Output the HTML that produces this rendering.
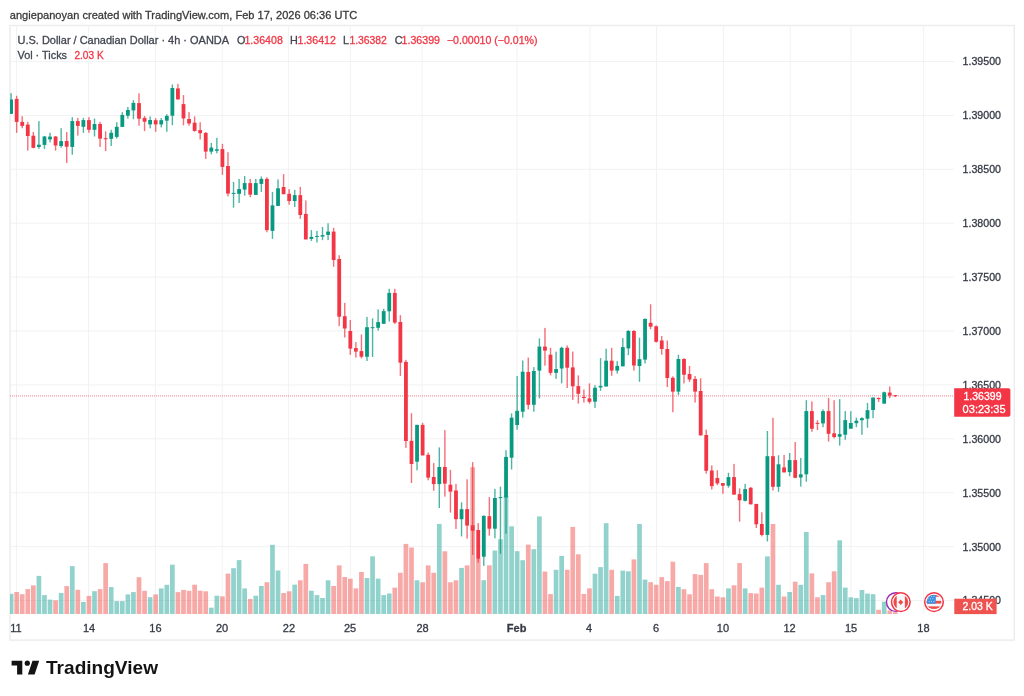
<!DOCTYPE html>
<html><head><meta charset="utf-8"><title>USDCAD chart</title>
<style>
html,body{margin:0;padding:0;background:#ffffff;width:1024px;height:696px;overflow:hidden}
svg{display:block;will-change:transform}
text{font-family:"Liberation Sans",Arial,sans-serif}
</style></head><body>
<svg width="1024" height="696" viewBox="0 0 1024 696">
<rect x="0" y="0" width="1024" height="696" fill="#ffffff"/>
<text x="9.8" y="18.5" font-size="11.6" fill="#3a3a3c" textLength="347.4" lengthAdjust="spacingAndGlyphs" stroke="#3a3a3c" stroke-width="0.3">angiepanoyan created with TradingView.com, Feb 17, 2026 06:36 UTC</text>
<rect x="10" y="25.5" width="1004.2" height="614.6" fill="#ffffff" stroke="#ececec" stroke-width="1.4"/>
<rect x="16.1" y="25" width="1" height="589" fill="#f1f2f3"/>
<rect x="88" y="25" width="1" height="589" fill="#f1f2f3"/>
<rect x="154.85" y="25" width="1" height="589" fill="#f1f2f3"/>
<rect x="221.7" y="25" width="1" height="589" fill="#f1f2f3"/>
<rect x="287.9" y="25" width="1" height="589" fill="#f1f2f3"/>
<rect x="349.85" y="25" width="1" height="589" fill="#f1f2f3"/>
<rect x="421.6" y="25" width="1" height="589" fill="#f1f2f3"/>
<rect x="516.6" y="25" width="1" height="589" fill="#f1f2f3"/>
<rect x="589.4" y="25" width="1" height="589" fill="#f1f2f3"/>
<rect x="656" y="25" width="1" height="589" fill="#f1f2f3"/>
<rect x="722.85" y="25" width="1" height="589" fill="#f1f2f3"/>
<rect x="789.7" y="25" width="1" height="589" fill="#f1f2f3"/>
<rect x="850.4" y="25" width="1" height="589" fill="#f1f2f3"/>
<rect x="923.1" y="25" width="1" height="589" fill="#f1f2f3"/>
<rect x="10" y="61" width="944" height="1" fill="#f1f2f3"/>
<rect x="10" y="114.9" width="944" height="1" fill="#f1f2f3"/>
<rect x="10" y="168.8" width="944" height="1" fill="#f1f2f3"/>
<rect x="10" y="222.7" width="944" height="1" fill="#f1f2f3"/>
<rect x="10" y="276.6" width="944" height="1" fill="#f1f2f3"/>
<rect x="10" y="330.5" width="944" height="1" fill="#f1f2f3"/>
<rect x="10" y="384.4" width="944" height="1" fill="#f1f2f3"/>
<rect x="10" y="438.3" width="944" height="1" fill="#f1f2f3"/>
<rect x="10" y="492.2" width="944" height="1" fill="#f1f2f3"/>
<rect x="10" y="546.1" width="944" height="1" fill="#f1f2f3"/>
<rect x="10" y="600" width="944" height="1" fill="#f1f2f3"/>
<defs><clipPath id="pane"><rect x="10" y="25" width="944" height="589"/></clipPath></defs>
<g clip-path="url(#pane)">
<rect x="8.75" y="593.8" width="4.7" height="20.2" fill="rgba(38,166,154,0.5)"/>
<rect x="14.31" y="592" width="4.7" height="22" fill="rgba(239,83,80,0.5)"/>
<rect x="19.87" y="594.2" width="4.7" height="19.8" fill="rgba(239,83,80,0.5)"/>
<rect x="25.43" y="589.1" width="4.7" height="24.9" fill="rgba(239,83,80,0.5)"/>
<rect x="30.99" y="585.4" width="4.7" height="28.6" fill="rgba(239,83,80,0.5)"/>
<rect x="36.55" y="575.9" width="4.7" height="38.1" fill="rgba(38,166,154,0.5)"/>
<rect x="42.12" y="595.1" width="4.7" height="18.9" fill="rgba(38,166,154,0.5)"/>
<rect x="47.68" y="599.6" width="4.7" height="14.4" fill="rgba(38,166,154,0.5)"/>
<rect x="53.24" y="600.3" width="4.7" height="13.7" fill="rgba(239,83,80,0.5)"/>
<rect x="58.8" y="593" width="4.7" height="21" fill="rgba(38,166,154,0.5)"/>
<rect x="64.36" y="586.1" width="4.7" height="27.9" fill="rgba(239,83,80,0.5)"/>
<rect x="69.92" y="566.1" width="4.7" height="47.9" fill="rgba(38,166,154,0.5)"/>
<rect x="75.48" y="589.8" width="4.7" height="24.2" fill="rgba(239,83,80,0.5)"/>
<rect x="81.04" y="602" width="4.7" height="12" fill="rgba(38,166,154,0.5)"/>
<rect x="86.6" y="595.9" width="4.7" height="18.1" fill="rgba(239,83,80,0.5)"/>
<rect x="92.16" y="591.2" width="4.7" height="22.8" fill="rgba(38,166,154,0.5)"/>
<rect x="97.73" y="589.1" width="4.7" height="24.9" fill="rgba(239,83,80,0.5)"/>
<rect x="103.29" y="563.1" width="4.7" height="50.9" fill="rgba(239,83,80,0.5)"/>
<rect x="108.85" y="587.1" width="4.7" height="26.9" fill="rgba(38,166,154,0.5)"/>
<rect x="114.41" y="601.1" width="4.7" height="12.9" fill="rgba(38,166,154,0.5)"/>
<rect x="119.97" y="601.1" width="4.7" height="12.9" fill="rgba(38,166,154,0.5)"/>
<rect x="125.53" y="594.4" width="4.7" height="19.6" fill="rgba(38,166,154,0.5)"/>
<rect x="131.09" y="592.1" width="4.7" height="21.9" fill="rgba(38,166,154,0.5)"/>
<rect x="136.65" y="577.2" width="4.7" height="36.8" fill="rgba(239,83,80,0.5)"/>
<rect x="142.21" y="590.8" width="4.7" height="23.2" fill="rgba(239,83,80,0.5)"/>
<rect x="147.78" y="597.2" width="4.7" height="16.8" fill="rgba(38,166,154,0.5)"/>
<rect x="153.34" y="594.4" width="4.7" height="19.6" fill="rgba(239,83,80,0.5)"/>
<rect x="158.9" y="588.4" width="4.7" height="25.6" fill="rgba(38,166,154,0.5)"/>
<rect x="164.46" y="584.8" width="4.7" height="29.2" fill="rgba(38,166,154,0.5)"/>
<rect x="170.02" y="564.7" width="4.7" height="49.3" fill="rgba(38,166,154,0.5)"/>
<rect x="175.58" y="592.1" width="4.7" height="21.9" fill="rgba(239,83,80,0.5)"/>
<rect x="181.14" y="589.9" width="4.7" height="24.1" fill="rgba(239,83,80,0.5)"/>
<rect x="186.7" y="590.8" width="4.7" height="23.2" fill="rgba(239,83,80,0.5)"/>
<rect x="192.26" y="584.7" width="4.7" height="29.3" fill="rgba(239,83,80,0.5)"/>
<rect x="197.82" y="590.7" width="4.7" height="23.3" fill="rgba(239,83,80,0.5)"/>
<rect x="203.38" y="591.3" width="4.7" height="22.7" fill="rgba(239,83,80,0.5)"/>
<rect x="208.95" y="607.7" width="4.7" height="6.3" fill="rgba(38,166,154,0.5)"/>
<rect x="214.51" y="595.7" width="4.7" height="18.3" fill="rgba(38,166,154,0.5)"/>
<rect x="220.07" y="596.4" width="4.7" height="17.6" fill="rgba(239,83,80,0.5)"/>
<rect x="225.63" y="573.6" width="4.7" height="40.4" fill="rgba(239,83,80,0.5)"/>
<rect x="231.19" y="568.2" width="4.7" height="45.8" fill="rgba(38,166,154,0.5)"/>
<rect x="236.75" y="560.1" width="4.7" height="53.9" fill="rgba(38,166,154,0.5)"/>
<rect x="242.31" y="588.4" width="4.7" height="25.6" fill="rgba(38,166,154,0.5)"/>
<rect x="247.87" y="598.9" width="4.7" height="15.1" fill="rgba(239,83,80,0.5)"/>
<rect x="253.43" y="595.7" width="4.7" height="18.3" fill="rgba(38,166,154,0.5)"/>
<rect x="259" y="586" width="4.7" height="28" fill="rgba(38,166,154,0.5)"/>
<rect x="264.56" y="582.2" width="4.7" height="31.8" fill="rgba(239,83,80,0.5)"/>
<rect x="270.12" y="544.8" width="4.7" height="69.2" fill="rgba(38,166,154,0.5)"/>
<rect x="275.68" y="570.5" width="4.7" height="43.5" fill="rgba(38,166,154,0.5)"/>
<rect x="281.24" y="593" width="4.7" height="21" fill="rgba(239,83,80,0.5)"/>
<rect x="286.8" y="591.3" width="4.7" height="22.7" fill="rgba(239,83,80,0.5)"/>
<rect x="292.36" y="584.6" width="4.7" height="29.4" fill="rgba(38,166,154,0.5)"/>
<rect x="297.92" y="580.3" width="4.7" height="33.7" fill="rgba(239,83,80,0.5)"/>
<rect x="303.48" y="563.9" width="4.7" height="50.1" fill="rgba(239,83,80,0.5)"/>
<rect x="309.04" y="590.7" width="4.7" height="23.3" fill="rgba(38,166,154,0.5)"/>
<rect x="314.61" y="595.1" width="4.7" height="18.9" fill="rgba(38,166,154,0.5)"/>
<rect x="320.17" y="598" width="4.7" height="16" fill="rgba(38,166,154,0.5)"/>
<rect x="325.73" y="580.3" width="4.7" height="33.7" fill="rgba(38,166,154,0.5)"/>
<rect x="331.29" y="586" width="4.7" height="28" fill="rgba(239,83,80,0.5)"/>
<rect x="336.85" y="565.4" width="4.7" height="48.6" fill="rgba(239,83,80,0.5)"/>
<rect x="342.41" y="577" width="4.7" height="37" fill="rgba(239,83,80,0.5)"/>
<rect x="347.97" y="578.7" width="4.7" height="35.3" fill="rgba(239,83,80,0.5)"/>
<rect x="353.53" y="588.4" width="4.7" height="25.6" fill="rgba(239,83,80,0.5)"/>
<rect x="359.09" y="572" width="4.7" height="42" fill="rgba(239,83,80,0.5)"/>
<rect x="364.65" y="578" width="4.7" height="36" fill="rgba(38,166,154,0.5)"/>
<rect x="370.21" y="556.3" width="4.7" height="57.7" fill="rgba(38,166,154,0.5)"/>
<rect x="375.78" y="578.7" width="4.7" height="35.3" fill="rgba(38,166,154,0.5)"/>
<rect x="381.34" y="595.1" width="4.7" height="18.9" fill="rgba(38,166,154,0.5)"/>
<rect x="386.9" y="593.5" width="4.7" height="20.5" fill="rgba(38,166,154,0.5)"/>
<rect x="392.46" y="587.6" width="4.7" height="26.4" fill="rgba(239,83,80,0.5)"/>
<rect x="398.02" y="572.8" width="4.7" height="41.2" fill="rgba(239,83,80,0.5)"/>
<rect x="403.58" y="543.9" width="4.7" height="70.1" fill="rgba(239,83,80,0.5)"/>
<rect x="409.14" y="547.5" width="4.7" height="66.5" fill="rgba(239,83,80,0.5)"/>
<rect x="414.7" y="580.3" width="4.7" height="33.7" fill="rgba(38,166,154,0.5)"/>
<rect x="420.26" y="582.3" width="4.7" height="31.7" fill="rgba(239,83,80,0.5)"/>
<rect x="425.82" y="565.4" width="4.7" height="48.6" fill="rgba(239,83,80,0.5)"/>
<rect x="431.39" y="572.8" width="4.7" height="41.2" fill="rgba(239,83,80,0.5)"/>
<rect x="436.95" y="523.9" width="4.7" height="90.1" fill="rgba(38,166,154,0.5)"/>
<rect x="442.51" y="551.3" width="4.7" height="62.7" fill="rgba(239,83,80,0.5)"/>
<rect x="448.07" y="582.3" width="4.7" height="31.7" fill="rgba(239,83,80,0.5)"/>
<rect x="453.63" y="580.3" width="4.7" height="33.7" fill="rgba(239,83,80,0.5)"/>
<rect x="459.19" y="567.9" width="4.7" height="46.1" fill="rgba(38,166,154,0.5)"/>
<rect x="464.75" y="565.4" width="4.7" height="48.6" fill="rgba(239,83,80,0.5)"/>
<rect x="470.31" y="467.2" width="4.7" height="146.8" fill="rgba(239,83,80,0.5)"/>
<rect x="475.87" y="558.4" width="4.7" height="55.6" fill="rgba(239,83,80,0.5)"/>
<rect x="481.44" y="580.2" width="4.7" height="33.8" fill="rgba(38,166,154,0.5)"/>
<rect x="487" y="565.3" width="4.7" height="48.7" fill="rgba(239,83,80,0.5)"/>
<rect x="492.56" y="550.5" width="4.7" height="63.5" fill="rgba(38,166,154,0.5)"/>
<rect x="498.12" y="539.3" width="4.7" height="74.7" fill="rgba(38,166,154,0.5)"/>
<rect x="503.68" y="495.4" width="4.7" height="118.6" fill="rgba(38,166,154,0.5)"/>
<rect x="509.24" y="526.3" width="4.7" height="87.7" fill="rgba(38,166,154,0.5)"/>
<rect x="514.8" y="551.2" width="4.7" height="62.8" fill="rgba(38,166,154,0.5)"/>
<rect x="520.36" y="560.2" width="4.7" height="53.8" fill="rgba(38,166,154,0.5)"/>
<rect x="525.92" y="544.6" width="4.7" height="69.4" fill="rgba(239,83,80,0.5)"/>
<rect x="531.48" y="549.2" width="4.7" height="64.8" fill="rgba(38,166,154,0.5)"/>
<rect x="537.04" y="516.4" width="4.7" height="97.6" fill="rgba(38,166,154,0.5)"/>
<rect x="542.61" y="571.5" width="4.7" height="42.5" fill="rgba(239,83,80,0.5)"/>
<rect x="548.17" y="594.1" width="4.7" height="19.9" fill="rgba(239,83,80,0.5)"/>
<rect x="553.73" y="569.8" width="4.7" height="44.2" fill="rgba(38,166,154,0.5)"/>
<rect x="559.29" y="555.9" width="4.7" height="58.1" fill="rgba(38,166,154,0.5)"/>
<rect x="564.85" y="569.8" width="4.7" height="44.2" fill="rgba(239,83,80,0.5)"/>
<rect x="570.41" y="526.9" width="4.7" height="87.1" fill="rgba(239,83,80,0.5)"/>
<rect x="575.97" y="554.3" width="4.7" height="59.7" fill="rgba(239,83,80,0.5)"/>
<rect x="581.53" y="593.9" width="4.7" height="20.1" fill="rgba(239,83,80,0.5)"/>
<rect x="587.09" y="588.4" width="4.7" height="25.6" fill="rgba(239,83,80,0.5)"/>
<rect x="592.65" y="573.7" width="4.7" height="40.3" fill="rgba(38,166,154,0.5)"/>
<rect x="598.22" y="567.1" width="4.7" height="46.9" fill="rgba(38,166,154,0.5)"/>
<rect x="603.78" y="523.2" width="4.7" height="90.8" fill="rgba(38,166,154,0.5)"/>
<rect x="609.34" y="569.8" width="4.7" height="44.2" fill="rgba(239,83,80,0.5)"/>
<rect x="614.9" y="595.9" width="4.7" height="18.1" fill="rgba(38,166,154,0.5)"/>
<rect x="620.46" y="570.6" width="4.7" height="43.4" fill="rgba(38,166,154,0.5)"/>
<rect x="626.02" y="571.3" width="4.7" height="42.7" fill="rgba(38,166,154,0.5)"/>
<rect x="631.58" y="559.4" width="4.7" height="54.6" fill="rgba(239,83,80,0.5)"/>
<rect x="637.14" y="524" width="4.7" height="90" fill="rgba(38,166,154,0.5)"/>
<rect x="642.7" y="579.6" width="4.7" height="34.4" fill="rgba(38,166,154,0.5)"/>
<rect x="648.26" y="582.2" width="4.7" height="31.8" fill="rgba(239,83,80,0.5)"/>
<rect x="653.83" y="584.8" width="4.7" height="29.2" fill="rgba(239,83,80,0.5)"/>
<rect x="659.39" y="577.1" width="4.7" height="36.9" fill="rgba(239,83,80,0.5)"/>
<rect x="664.95" y="581.1" width="4.7" height="32.9" fill="rgba(239,83,80,0.5)"/>
<rect x="670.51" y="561.7" width="4.7" height="52.3" fill="rgba(239,83,80,0.5)"/>
<rect x="676.07" y="586.9" width="4.7" height="27.1" fill="rgba(38,166,154,0.5)"/>
<rect x="681.63" y="589.2" width="4.7" height="24.8" fill="rgba(239,83,80,0.5)"/>
<rect x="687.19" y="594.3" width="4.7" height="19.7" fill="rgba(239,83,80,0.5)"/>
<rect x="692.75" y="574.1" width="4.7" height="39.9" fill="rgba(239,83,80,0.5)"/>
<rect x="698.31" y="574.9" width="4.7" height="39.1" fill="rgba(239,83,80,0.5)"/>
<rect x="703.88" y="563.1" width="4.7" height="50.9" fill="rgba(239,83,80,0.5)"/>
<rect x="709.44" y="589.2" width="4.7" height="24.8" fill="rgba(239,83,80,0.5)"/>
<rect x="715" y="596.5" width="4.7" height="17.5" fill="rgba(239,83,80,0.5)"/>
<rect x="720.56" y="597.3" width="4.7" height="16.7" fill="rgba(239,83,80,0.5)"/>
<rect x="726.12" y="588.4" width="4.7" height="25.6" fill="rgba(38,166,154,0.5)"/>
<rect x="731.68" y="585.3" width="4.7" height="28.7" fill="rgba(239,83,80,0.5)"/>
<rect x="737.24" y="563.1" width="4.7" height="50.9" fill="rgba(239,83,80,0.5)"/>
<rect x="742.8" y="588.4" width="4.7" height="25.6" fill="rgba(38,166,154,0.5)"/>
<rect x="748.36" y="593.1" width="4.7" height="20.9" fill="rgba(239,83,80,0.5)"/>
<rect x="753.92" y="593.5" width="4.7" height="20.5" fill="rgba(239,83,80,0.5)"/>
<rect x="759.49" y="587.6" width="4.7" height="26.4" fill="rgba(239,83,80,0.5)"/>
<rect x="765.05" y="556.4" width="4.7" height="57.6" fill="rgba(38,166,154,0.5)"/>
<rect x="770.61" y="524" width="4.7" height="90" fill="rgba(239,83,80,0.5)"/>
<rect x="776.17" y="584.8" width="4.7" height="29.2" fill="rgba(38,166,154,0.5)"/>
<rect x="781.73" y="596.5" width="4.7" height="17.5" fill="rgba(239,83,80,0.5)"/>
<rect x="787.29" y="592" width="4.7" height="22" fill="rgba(38,166,154,0.5)"/>
<rect x="792.85" y="581.7" width="4.7" height="32.3" fill="rgba(239,83,80,0.5)"/>
<rect x="798.41" y="584.8" width="4.7" height="29.2" fill="rgba(38,166,154,0.5)"/>
<rect x="803.97" y="532" width="4.7" height="82" fill="rgba(38,166,154,0.5)"/>
<rect x="809.53" y="573.4" width="4.7" height="40.6" fill="rgba(239,83,80,0.5)"/>
<rect x="815.1" y="597.3" width="4.7" height="16.7" fill="rgba(239,83,80,0.5)"/>
<rect x="820.66" y="595.1" width="4.7" height="18.9" fill="rgba(38,166,154,0.5)"/>
<rect x="826.22" y="582.2" width="4.7" height="31.8" fill="rgba(239,83,80,0.5)"/>
<rect x="831.78" y="571.3" width="4.7" height="42.7" fill="rgba(239,83,80,0.5)"/>
<rect x="837.34" y="540.3" width="4.7" height="73.7" fill="rgba(38,166,154,0.5)"/>
<rect x="842.9" y="587.6" width="4.7" height="26.4" fill="rgba(38,166,154,0.5)"/>
<rect x="848.46" y="597.3" width="4.7" height="16.7" fill="rgba(38,166,154,0.5)"/>
<rect x="854.02" y="598.1" width="4.7" height="15.9" fill="rgba(38,166,154,0.5)"/>
<rect x="859.58" y="590" width="4.7" height="24" fill="rgba(38,166,154,0.5)"/>
<rect x="865.14" y="593.6" width="4.7" height="20.4" fill="rgba(38,166,154,0.5)"/>
<rect x="870.71" y="594.2" width="4.7" height="19.8" fill="rgba(38,166,154,0.5)"/>
<rect x="876.27" y="609.8" width="4.7" height="4.2" fill="rgba(239,83,80,0.5)"/>
<rect x="881.83" y="601.7" width="4.7" height="12.3" fill="rgba(38,166,154,0.5)"/>
<rect x="887.39" y="610.5" width="4.7" height="3.5" fill="rgba(239,83,80,0.5)"/>
<rect x="892.95" y="612.2" width="4.7" height="1.8" fill="rgba(239,83,80,0.5)"/>
<line x1="10" y1="395.8" x2="954" y2="395.8" stroke="#f23645" stroke-width="1.2" stroke-dasharray="1 1" opacity="0.5"/>
<rect x="10.4" y="93.2" width="1.4" height="20.8" fill="#089981" fill-opacity="0.72"/><rect x="9.2" y="99.5" width="3.8" height="14.4" fill="#089981"/>
<rect x="15.96" y="95.8" width="1.4" height="37" fill="#f23645" fill-opacity="0.72"/><rect x="14.76" y="98.9" width="3.8" height="23" fill="#f23645"/>
<rect x="21.52" y="116.2" width="1.4" height="12" fill="#f23645" fill-opacity="0.72"/><rect x="20.32" y="121.9" width="3.8" height="4" fill="#f23645"/>
<rect x="27.08" y="121.9" width="1.4" height="28.7" fill="#f23645" fill-opacity="0.72"/><rect x="25.88" y="124.6" width="3.8" height="11.4" fill="#f23645"/>
<rect x="32.64" y="132" width="1.4" height="16.3" fill="#f23645" fill-opacity="0.72"/><rect x="31.44" y="135.7" width="3.8" height="12.1" fill="#f23645"/>
<rect x="38.2" y="121.1" width="1.4" height="27.8" fill="#089981" fill-opacity="0.72"/><rect x="37.01" y="144.7" width="3.8" height="2.2" fill="#089981"/>
<rect x="43.77" y="136" width="1.4" height="12.9" fill="#089981" fill-opacity="0.72"/><rect x="42.57" y="136.5" width="3.8" height="8.4" fill="#089981"/>
<rect x="49.33" y="132.8" width="1.4" height="9.5" fill="#089981" fill-opacity="0.72"/><rect x="48.13" y="136.6" width="3.8" height="2.8" fill="#089981"/>
<rect x="54.89" y="136" width="1.4" height="14.6" fill="#f23645" fill-opacity="0.72"/><rect x="53.69" y="136.5" width="3.8" height="9" fill="#f23645"/>
<rect x="60.45" y="128.2" width="1.4" height="19.6" fill="#089981" fill-opacity="0.72"/><rect x="59.25" y="141.1" width="3.8" height="4.9" fill="#089981"/>
<rect x="66.01" y="132.1" width="1.4" height="30.9" fill="#f23645" fill-opacity="0.72"/><rect x="64.81" y="141" width="3.8" height="5.7" fill="#f23645"/>
<rect x="71.57" y="117.2" width="1.4" height="37.5" fill="#089981" fill-opacity="0.72"/><rect x="70.37" y="121.1" width="3.8" height="25.8" fill="#089981"/>
<rect x="77.13" y="117.9" width="1.4" height="17.7" fill="#f23645" fill-opacity="0.72"/><rect x="75.93" y="121.1" width="3.8" height="4.8" fill="#f23645"/>
<rect x="82.69" y="117.9" width="1.4" height="14.9" fill="#089981" fill-opacity="0.72"/><rect x="81.49" y="120.1" width="3.8" height="6.7" fill="#089981"/>
<rect x="88.25" y="117.2" width="1.4" height="15.6" fill="#f23645" fill-opacity="0.72"/><rect x="87.05" y="120.1" width="3.8" height="9.7" fill="#f23645"/>
<rect x="93.81" y="118.5" width="1.4" height="18" fill="#089981" fill-opacity="0.72"/><rect x="92.61" y="124" width="3.8" height="5.8" fill="#089981"/>
<rect x="99.38" y="121.8" width="1.4" height="25.2" fill="#f23645" fill-opacity="0.72"/><rect x="98.18" y="124" width="3.8" height="14.6" fill="#f23645"/>
<rect x="104.94" y="131.3" width="1.4" height="19.8" fill="#f23645" fill-opacity="0.72"/><rect x="103.74" y="138.2" width="3.8" height="1" fill="#f23645"/>
<rect x="110.5" y="129.8" width="1.4" height="16.2" fill="#089981" fill-opacity="0.72"/><rect x="109.3" y="132.8" width="3.8" height="6" fill="#089981"/>
<rect x="116.06" y="122.2" width="1.4" height="16.3" fill="#089981" fill-opacity="0.72"/><rect x="114.86" y="126.8" width="3.8" height="10.1" fill="#089981"/>
<rect x="121.62" y="112.2" width="1.4" height="14.8" fill="#089981" fill-opacity="0.72"/><rect x="120.42" y="115" width="3.8" height="11.9" fill="#089981"/>
<rect x="127.18" y="106.9" width="1.4" height="11.8" fill="#089981" fill-opacity="0.72"/><rect x="125.98" y="110" width="3.8" height="5.7" fill="#089981"/>
<rect x="132.74" y="100.1" width="1.4" height="19.1" fill="#089981" fill-opacity="0.72"/><rect x="131.54" y="102.9" width="3.8" height="7.5" fill="#089981"/>
<rect x="138.3" y="93.3" width="1.4" height="32.4" fill="#f23645" fill-opacity="0.72"/><rect x="137.1" y="103.1" width="3.8" height="15.6" fill="#f23645"/>
<rect x="143.86" y="116" width="1.4" height="15.1" fill="#f23645" fill-opacity="0.72"/><rect x="142.66" y="117.9" width="3.8" height="3.8" fill="#f23645"/>
<rect x="149.43" y="116.5" width="1.4" height="11.8" fill="#089981" fill-opacity="0.72"/><rect x="148.22" y="120" width="3.8" height="4.4" fill="#089981"/>
<rect x="154.99" y="118.2" width="1.4" height="13.6" fill="#f23645" fill-opacity="0.72"/><rect x="153.79" y="120.2" width="3.8" height="4.2" fill="#f23645"/>
<rect x="160.55" y="118" width="1.4" height="9.4" fill="#089981" fill-opacity="0.72"/><rect x="159.35" y="120.2" width="3.8" height="4.2" fill="#089981"/>
<rect x="166.11" y="114.2" width="1.4" height="17.6" fill="#089981" fill-opacity="0.72"/><rect x="164.91" y="115.9" width="3.8" height="4.8" fill="#089981"/>
<rect x="171.67" y="84.5" width="1.4" height="40.7" fill="#089981" fill-opacity="0.72"/><rect x="170.47" y="88" width="3.8" height="27.7" fill="#089981"/>
<rect x="177.23" y="83.9" width="1.4" height="15.8" fill="#f23645" fill-opacity="0.72"/><rect x="176.03" y="88.4" width="3.8" height="11" fill="#f23645"/>
<rect x="182.79" y="95.1" width="1.4" height="30.2" fill="#f23645" fill-opacity="0.72"/><rect x="181.59" y="104.1" width="3.8" height="14.3" fill="#f23645"/>
<rect x="188.35" y="112.1" width="1.4" height="13.6" fill="#f23645" fill-opacity="0.72"/><rect x="187.15" y="119" width="3.8" height="4.5" fill="#f23645"/>
<rect x="193.91" y="116.4" width="1.4" height="15.3" fill="#f23645" fill-opacity="0.72"/><rect x="192.71" y="122.7" width="3.8" height="8.2" fill="#f23645"/>
<rect x="199.47" y="122.2" width="1.4" height="17.3" fill="#f23645" fill-opacity="0.72"/><rect x="198.27" y="130.1" width="3.8" height="3.1" fill="#f23645"/>
<rect x="205.03" y="132.1" width="1.4" height="26.8" fill="#f23645" fill-opacity="0.72"/><rect x="203.83" y="132.9" width="3.8" height="18.7" fill="#f23645"/>
<rect x="210.6" y="143" width="1.4" height="11.3" fill="#089981" fill-opacity="0.72"/><rect x="209.4" y="147.6" width="3.8" height="4" fill="#089981"/>
<rect x="216.16" y="137.8" width="1.4" height="15.5" fill="#089981" fill-opacity="0.72"/><rect x="214.96" y="149.3" width="3.8" height="1.5" fill="#089981"/>
<rect x="221.72" y="143.9" width="1.4" height="31" fill="#f23645" fill-opacity="0.72"/><rect x="220.52" y="149.1" width="3.8" height="17.8" fill="#f23645"/>
<rect x="227.28" y="152.2" width="1.4" height="44.2" fill="#f23645" fill-opacity="0.72"/><rect x="226.08" y="166" width="3.8" height="27.6" fill="#f23645"/>
<rect x="232.84" y="181.9" width="1.4" height="25.8" fill="#089981" fill-opacity="0.72"/><rect x="231.64" y="192.9" width="3.8" height="1" fill="#089981"/>
<rect x="238.4" y="179" width="1.4" height="24" fill="#089981" fill-opacity="0.72"/><rect x="237.2" y="189.1" width="3.8" height="4.7" fill="#089981"/>
<rect x="243.96" y="176" width="1.4" height="19.7" fill="#089981" fill-opacity="0.72"/><rect x="242.76" y="183.1" width="3.8" height="6.5" fill="#089981"/>
<rect x="249.52" y="179" width="1.4" height="18.2" fill="#f23645" fill-opacity="0.72"/><rect x="248.32" y="183.1" width="3.8" height="11.5" fill="#f23645"/>
<rect x="255.08" y="178.9" width="1.4" height="16" fill="#089981" fill-opacity="0.72"/><rect x="253.88" y="183.1" width="3.8" height="11.8" fill="#089981"/>
<rect x="260.65" y="176.5" width="1.4" height="15.4" fill="#089981" fill-opacity="0.72"/><rect x="259.45" y="178.9" width="3.8" height="5" fill="#089981"/>
<rect x="266.21" y="177.2" width="1.4" height="55" fill="#f23645" fill-opacity="0.72"/><rect x="265.01" y="178.9" width="3.8" height="51.2" fill="#f23645"/>
<rect x="271.77" y="191.9" width="1.4" height="47" fill="#089981" fill-opacity="0.72"/><rect x="270.57" y="205.4" width="3.8" height="25.5" fill="#089981"/>
<rect x="277.33" y="179.4" width="1.4" height="26.5" fill="#089981" fill-opacity="0.72"/><rect x="276.13" y="188.3" width="3.8" height="17.6" fill="#089981"/>
<rect x="282.89" y="174.1" width="1.4" height="20.1" fill="#f23645" fill-opacity="0.72"/><rect x="281.69" y="187" width="3.8" height="7.2" fill="#f23645"/>
<rect x="288.45" y="189.1" width="1.4" height="15.6" fill="#f23645" fill-opacity="0.72"/><rect x="287.25" y="193.8" width="3.8" height="7.2" fill="#f23645"/>
<rect x="294.01" y="189.9" width="1.4" height="17.1" fill="#089981" fill-opacity="0.72"/><rect x="292.81" y="195.1" width="3.8" height="5.9" fill="#089981"/>
<rect x="299.57" y="186.9" width="1.4" height="31.9" fill="#f23645" fill-opacity="0.72"/><rect x="298.37" y="195.1" width="3.8" height="19.9" fill="#f23645"/>
<rect x="305.13" y="200.4" width="1.4" height="39" fill="#f23645" fill-opacity="0.72"/><rect x="303.93" y="213.9" width="3.8" height="25.5" fill="#f23645"/>
<rect x="310.69" y="230.1" width="1.4" height="10.8" fill="#089981" fill-opacity="0.72"/><rect x="309.49" y="236.9" width="3.8" height="2" fill="#089981"/>
<rect x="316.26" y="230.9" width="1.4" height="11.6" fill="#089981" fill-opacity="0.72"/><rect x="315.06" y="235.9" width="3.8" height="1" fill="#089981"/>
<rect x="321.82" y="227" width="1.4" height="13.1" fill="#089981" fill-opacity="0.72"/><rect x="320.62" y="235.1" width="3.8" height="1.5" fill="#089981"/>
<rect x="327.38" y="223.3" width="1.4" height="16.8" fill="#089981" fill-opacity="0.72"/><rect x="326.18" y="231.6" width="3.8" height="3.3" fill="#089981"/>
<rect x="332.94" y="227.8" width="1.4" height="39" fill="#f23645" fill-opacity="0.72"/><rect x="331.74" y="231.6" width="3.8" height="28.4" fill="#f23645"/>
<rect x="338.5" y="255.2" width="1.4" height="71" fill="#f23645" fill-opacity="0.72"/><rect x="337.3" y="259" width="3.8" height="57.7" fill="#f23645"/>
<rect x="344.06" y="302.9" width="1.4" height="34.6" fill="#f23645" fill-opacity="0.72"/><rect x="342.86" y="316.2" width="3.8" height="12.3" fill="#f23645"/>
<rect x="349.62" y="320" width="1.4" height="34.9" fill="#f23645" fill-opacity="0.72"/><rect x="348.42" y="331" width="3.8" height="17.6" fill="#f23645"/>
<rect x="355.18" y="342.1" width="1.4" height="15.5" fill="#f23645" fill-opacity="0.72"/><rect x="353.98" y="348.1" width="3.8" height="3.5" fill="#f23645"/>
<rect x="360.74" y="334.5" width="1.4" height="23.9" fill="#f23645" fill-opacity="0.72"/><rect x="359.54" y="351.1" width="3.8" height="5.6" fill="#f23645"/>
<rect x="366.3" y="316.9" width="1.4" height="44.1" fill="#089981" fill-opacity="0.72"/><rect x="365.1" y="327.2" width="3.8" height="29.6" fill="#089981"/>
<rect x="371.87" y="318.3" width="1.4" height="38.7" fill="#089981" fill-opacity="0.72"/><rect x="370.67" y="327.2" width="3.8" height="1" fill="#089981"/>
<rect x="377.43" y="309.4" width="1.4" height="21.3" fill="#089981" fill-opacity="0.72"/><rect x="376.23" y="322.1" width="3.8" height="5.7" fill="#089981"/>
<rect x="382.99" y="308.8" width="1.4" height="15.1" fill="#089981" fill-opacity="0.72"/><rect x="381.79" y="311.1" width="3.8" height="12.7" fill="#089981"/>
<rect x="388.55" y="288.8" width="1.4" height="32.8" fill="#089981" fill-opacity="0.72"/><rect x="387.35" y="292.9" width="3.8" height="18.4" fill="#089981"/>
<rect x="394.11" y="288.8" width="1.4" height="35.1" fill="#f23645" fill-opacity="0.72"/><rect x="392.91" y="292.9" width="3.8" height="29.7" fill="#f23645"/>
<rect x="399.67" y="315.1" width="1.4" height="60.8" fill="#f23645" fill-opacity="0.72"/><rect x="398.47" y="322" width="3.8" height="40.6" fill="#f23645"/>
<rect x="405.23" y="359.8" width="1.4" height="88.1" fill="#f23645" fill-opacity="0.72"/><rect x="404.03" y="361.9" width="3.8" height="79.1" fill="#f23645"/>
<rect x="410.79" y="413.2" width="1.4" height="69.8" fill="#f23645" fill-opacity="0.72"/><rect x="409.59" y="440.8" width="3.8" height="23.2" fill="#f23645"/>
<rect x="416.35" y="424.7" width="1.4" height="45.6" fill="#089981" fill-opacity="0.72"/><rect x="415.15" y="424.9" width="3.8" height="36.8" fill="#089981"/>
<rect x="421.91" y="422.9" width="1.4" height="32.5" fill="#f23645" fill-opacity="0.72"/><rect x="420.71" y="424.9" width="3.8" height="30.5" fill="#f23645"/>
<rect x="427.48" y="452.5" width="1.4" height="27.8" fill="#f23645" fill-opacity="0.72"/><rect x="426.28" y="454.8" width="3.8" height="22.8" fill="#f23645"/>
<rect x="433.04" y="463.1" width="1.4" height="27.7" fill="#f23645" fill-opacity="0.72"/><rect x="431.84" y="477" width="3.8" height="7.1" fill="#f23645"/>
<rect x="438.6" y="447.4" width="1.4" height="60.6" fill="#089981" fill-opacity="0.72"/><rect x="437.4" y="467" width="3.8" height="17.1" fill="#089981"/>
<rect x="444.16" y="430.1" width="1.4" height="66.5" fill="#f23645" fill-opacity="0.72"/><rect x="442.96" y="467" width="3.8" height="16.6" fill="#f23645"/>
<rect x="449.72" y="469.8" width="1.4" height="42.8" fill="#f23645" fill-opacity="0.72"/><rect x="448.52" y="484.7" width="3.8" height="6.9" fill="#f23645"/>
<rect x="455.28" y="483.9" width="1.4" height="45.1" fill="#f23645" fill-opacity="0.72"/><rect x="454.08" y="490.5" width="3.8" height="28.7" fill="#f23645"/>
<rect x="460.84" y="502.3" width="1.4" height="34.1" fill="#089981" fill-opacity="0.72"/><rect x="459.64" y="509.2" width="3.8" height="10" fill="#089981"/>
<rect x="466.4" y="479.3" width="1.4" height="59.2" fill="#f23645" fill-opacity="0.72"/><rect x="465.2" y="509.1" width="3.8" height="16.5" fill="#f23645"/>
<rect x="471.96" y="462.1" width="1.4" height="92.8" fill="#f23645" fill-opacity="0.72"/><rect x="470.76" y="525.3" width="3.8" height="5.4" fill="#f23645"/>
<rect x="477.52" y="523.1" width="1.4" height="39.5" fill="#f23645" fill-opacity="0.72"/><rect x="476.32" y="530" width="3.8" height="28.7" fill="#f23645"/>
<rect x="483.09" y="515.3" width="1.4" height="50.6" fill="#089981" fill-opacity="0.72"/><rect x="481.89" y="515.9" width="3.8" height="40.8" fill="#089981"/>
<rect x="488.65" y="497.1" width="1.4" height="38.6" fill="#f23645" fill-opacity="0.72"/><rect x="487.45" y="516.2" width="3.8" height="12.5" fill="#f23645"/>
<rect x="494.21" y="488.9" width="1.4" height="49.4" fill="#089981" fill-opacity="0.72"/><rect x="493.01" y="498" width="3.8" height="30.7" fill="#089981"/>
<rect x="499.77" y="486.6" width="1.4" height="67.2" fill="#089981" fill-opacity="0.72"/><rect x="498.57" y="497.1" width="3.8" height="1" fill="#089981"/>
<rect x="505.33" y="450.2" width="1.4" height="83.5" fill="#089981" fill-opacity="0.72"/><rect x="504.13" y="456.9" width="3.8" height="40.6" fill="#089981"/>
<rect x="510.89" y="413.4" width="1.4" height="56.1" fill="#089981" fill-opacity="0.72"/><rect x="509.69" y="417.7" width="3.8" height="40" fill="#089981"/>
<rect x="516.45" y="376" width="1.4" height="53.7" fill="#089981" fill-opacity="0.72"/><rect x="515.25" y="410.8" width="3.8" height="14.2" fill="#089981"/>
<rect x="522.01" y="360.5" width="1.4" height="57.1" fill="#089981" fill-opacity="0.72"/><rect x="520.81" y="371.7" width="3.8" height="40" fill="#089981"/>
<rect x="527.57" y="357.6" width="1.4" height="51.8" fill="#f23645" fill-opacity="0.72"/><rect x="526.37" y="372" width="3.8" height="32.8" fill="#f23645"/>
<rect x="533.13" y="367.1" width="1.4" height="44.6" fill="#089981" fill-opacity="0.72"/><rect x="531.93" y="371" width="3.8" height="33.8" fill="#089981"/>
<rect x="538.69" y="338.4" width="1.4" height="59.9" fill="#089981" fill-opacity="0.72"/><rect x="537.5" y="346.6" width="3.8" height="24" fill="#089981"/>
<rect x="544.26" y="327.9" width="1.4" height="37.8" fill="#f23645" fill-opacity="0.72"/><rect x="543.06" y="346.6" width="3.8" height="4" fill="#f23645"/>
<rect x="549.82" y="347.9" width="1.4" height="27.5" fill="#f23645" fill-opacity="0.72"/><rect x="548.62" y="354.7" width="3.8" height="18.1" fill="#f23645"/>
<rect x="555.38" y="351.6" width="1.4" height="27.3" fill="#089981" fill-opacity="0.72"/><rect x="554.18" y="369.1" width="3.8" height="3.7" fill="#089981"/>
<rect x="560.94" y="346.7" width="1.4" height="36.7" fill="#089981" fill-opacity="0.72"/><rect x="559.74" y="347.8" width="3.8" height="20.7" fill="#089981"/>
<rect x="566.5" y="345.5" width="1.4" height="42.5" fill="#f23645" fill-opacity="0.72"/><rect x="565.3" y="347.8" width="3.8" height="19.9" fill="#f23645"/>
<rect x="572.06" y="351.6" width="1.4" height="48.3" fill="#f23645" fill-opacity="0.72"/><rect x="570.86" y="367.4" width="3.8" height="18.9" fill="#f23645"/>
<rect x="577.62" y="375.4" width="1.4" height="28.2" fill="#f23645" fill-opacity="0.72"/><rect x="576.42" y="386.1" width="3.8" height="7.7" fill="#f23645"/>
<rect x="583.18" y="389.5" width="1.4" height="13.1" fill="#f23645" fill-opacity="0.72"/><rect x="581.98" y="396.9" width="3.8" height="1.1" fill="#f23645"/>
<rect x="588.74" y="383.4" width="1.4" height="20.2" fill="#f23645" fill-opacity="0.72"/><rect x="587.54" y="398.4" width="3.8" height="3.4" fill="#f23645"/>
<rect x="594.3" y="385.2" width="1.4" height="22.7" fill="#089981" fill-opacity="0.72"/><rect x="593.11" y="387.8" width="3.8" height="13.9" fill="#089981"/>
<rect x="599.87" y="358.1" width="1.4" height="32.7" fill="#089981" fill-opacity="0.72"/><rect x="598.67" y="385.9" width="3.8" height="1.5" fill="#089981"/>
<rect x="605.43" y="348.7" width="1.4" height="37.8" fill="#089981" fill-opacity="0.72"/><rect x="604.23" y="360.7" width="3.8" height="25.8" fill="#089981"/>
<rect x="610.99" y="347.8" width="1.4" height="28" fill="#f23645" fill-opacity="0.72"/><rect x="609.79" y="360.7" width="3.8" height="9.9" fill="#f23645"/>
<rect x="616.55" y="361.1" width="1.4" height="12.5" fill="#089981" fill-opacity="0.72"/><rect x="615.35" y="365.9" width="3.8" height="4.7" fill="#089981"/>
<rect x="622.11" y="338.1" width="1.4" height="28.2" fill="#089981" fill-opacity="0.72"/><rect x="620.91" y="347.1" width="3.8" height="19.2" fill="#089981"/>
<rect x="627.67" y="330.1" width="1.4" height="25" fill="#089981" fill-opacity="0.72"/><rect x="626.47" y="331" width="3.8" height="17.4" fill="#089981"/>
<rect x="633.23" y="330.1" width="1.4" height="40.5" fill="#f23645" fill-opacity="0.72"/><rect x="632.03" y="331" width="3.8" height="34.5" fill="#f23645"/>
<rect x="638.79" y="337.7" width="1.4" height="44.1" fill="#089981" fill-opacity="0.72"/><rect x="637.59" y="359.2" width="3.8" height="6.8" fill="#089981"/>
<rect x="644.35" y="318.5" width="1.4" height="45" fill="#089981" fill-opacity="0.72"/><rect x="643.15" y="318.9" width="3.8" height="40.7" fill="#089981"/>
<rect x="649.91" y="304.3" width="1.4" height="24.9" fill="#f23645" fill-opacity="0.72"/><rect x="648.72" y="322.8" width="3.8" height="3.9" fill="#f23645"/>
<rect x="655.48" y="325.4" width="1.4" height="17.1" fill="#f23645" fill-opacity="0.72"/><rect x="654.28" y="326.3" width="3.8" height="15.5" fill="#f23645"/>
<rect x="661.04" y="336.1" width="1.4" height="18.6" fill="#f23645" fill-opacity="0.72"/><rect x="659.84" y="340.5" width="3.8" height="8.5" fill="#f23645"/>
<rect x="666.6" y="340.5" width="1.4" height="46.5" fill="#f23645" fill-opacity="0.72"/><rect x="665.4" y="349" width="3.8" height="29" fill="#f23645"/>
<rect x="672.16" y="376.3" width="1.4" height="35.9" fill="#f23645" fill-opacity="0.72"/><rect x="670.96" y="377.8" width="3.8" height="13.8" fill="#f23645"/>
<rect x="677.72" y="354.7" width="1.4" height="40.3" fill="#089981" fill-opacity="0.72"/><rect x="676.52" y="359" width="3.8" height="32.6" fill="#089981"/>
<rect x="683.28" y="358.2" width="1.4" height="25.3" fill="#f23645" fill-opacity="0.72"/><rect x="682.08" y="359" width="3.8" height="15.7" fill="#f23645"/>
<rect x="688.84" y="365.9" width="1.4" height="15.9" fill="#f23645" fill-opacity="0.72"/><rect x="687.64" y="374" width="3.8" height="5.5" fill="#f23645"/>
<rect x="694.4" y="376" width="1.4" height="26.5" fill="#f23645" fill-opacity="0.72"/><rect x="693.2" y="378.9" width="3.8" height="12.7" fill="#f23645"/>
<rect x="699.96" y="378.3" width="1.4" height="57.1" fill="#f23645" fill-opacity="0.72"/><rect x="698.76" y="391" width="3.8" height="44.4" fill="#f23645"/>
<rect x="705.52" y="429.7" width="1.4" height="44" fill="#f23645" fill-opacity="0.72"/><rect x="704.33" y="435" width="3.8" height="35.8" fill="#f23645"/>
<rect x="711.09" y="465.4" width="1.4" height="24.1" fill="#f23645" fill-opacity="0.72"/><rect x="709.89" y="470.5" width="3.8" height="15.6" fill="#f23645"/>
<rect x="716.65" y="470.2" width="1.4" height="15" fill="#f23645" fill-opacity="0.72"/><rect x="715.45" y="478" width="3.8" height="5.4" fill="#f23645"/>
<rect x="722.21" y="483.1" width="1.4" height="10.7" fill="#f23645" fill-opacity="0.72"/><rect x="721.01" y="483.1" width="3.8" height="2.6" fill="#f23645"/>
<rect x="727.77" y="472.8" width="1.4" height="14.9" fill="#089981" fill-opacity="0.72"/><rect x="726.57" y="477.1" width="3.8" height="8.6" fill="#089981"/>
<rect x="733.33" y="463.9" width="1.4" height="30.7" fill="#f23645" fill-opacity="0.72"/><rect x="732.13" y="477.1" width="3.8" height="17.5" fill="#f23645"/>
<rect x="738.89" y="488.4" width="1.4" height="33.3" fill="#f23645" fill-opacity="0.72"/><rect x="737.69" y="494.1" width="3.8" height="6.2" fill="#f23645"/>
<rect x="744.45" y="483.8" width="1.4" height="17.7" fill="#089981" fill-opacity="0.72"/><rect x="743.25" y="489.1" width="3.8" height="11.7" fill="#089981"/>
<rect x="750.01" y="487" width="1.4" height="17.5" fill="#f23645" fill-opacity="0.72"/><rect x="748.81" y="487.8" width="3.8" height="16.5" fill="#f23645"/>
<rect x="755.57" y="503.9" width="1.4" height="24.1" fill="#f23645" fill-opacity="0.72"/><rect x="754.37" y="503.9" width="3.8" height="20.4" fill="#f23645"/>
<rect x="761.13" y="512.3" width="1.4" height="24.1" fill="#f23645" fill-opacity="0.72"/><rect x="759.94" y="524" width="3.8" height="10.9" fill="#f23645"/>
<rect x="766.7" y="431" width="1.4" height="110.5" fill="#089981" fill-opacity="0.72"/><rect x="765.5" y="456.2" width="3.8" height="78.7" fill="#089981"/>
<rect x="772.26" y="417.8" width="1.4" height="72.7" fill="#f23645" fill-opacity="0.72"/><rect x="771.06" y="456.2" width="3.8" height="30.6" fill="#f23645"/>
<rect x="777.82" y="455.3" width="1.4" height="36.5" fill="#089981" fill-opacity="0.72"/><rect x="776.62" y="464.3" width="3.8" height="22.5" fill="#089981"/>
<rect x="783.38" y="454.9" width="1.4" height="17.5" fill="#f23645" fill-opacity="0.72"/><rect x="782.18" y="467.4" width="3.8" height="5" fill="#f23645"/>
<rect x="788.94" y="453" width="1.4" height="23.2" fill="#089981" fill-opacity="0.72"/><rect x="787.74" y="460.1" width="3.8" height="12" fill="#089981"/>
<rect x="794.5" y="442" width="1.4" height="36.2" fill="#f23645" fill-opacity="0.72"/><rect x="793.3" y="460.1" width="3.8" height="17.7" fill="#f23645"/>
<rect x="800.06" y="457.9" width="1.4" height="28.7" fill="#089981" fill-opacity="0.72"/><rect x="798.86" y="474.3" width="3.8" height="3.2" fill="#089981"/>
<rect x="805.62" y="400.2" width="1.4" height="81.5" fill="#089981" fill-opacity="0.72"/><rect x="804.42" y="411.1" width="3.8" height="63.2" fill="#089981"/>
<rect x="811.18" y="401.4" width="1.4" height="30.4" fill="#f23645" fill-opacity="0.72"/><rect x="809.98" y="411.1" width="3.8" height="17.7" fill="#f23645"/>
<rect x="816.75" y="420.2" width="1.4" height="9.9" fill="#f23645" fill-opacity="0.72"/><rect x="815.55" y="422.9" width="3.8" height="1" fill="#f23645"/>
<rect x="822.31" y="409.4" width="1.4" height="17.8" fill="#089981" fill-opacity="0.72"/><rect x="821.11" y="411.1" width="3.8" height="12.3" fill="#089981"/>
<rect x="827.87" y="397.9" width="1.4" height="43.7" fill="#f23645" fill-opacity="0.72"/><rect x="826.67" y="411.1" width="3.8" height="22.7" fill="#f23645"/>
<rect x="833.43" y="400.2" width="1.4" height="38.2" fill="#f23645" fill-opacity="0.72"/><rect x="832.23" y="433.3" width="3.8" height="3.7" fill="#f23645"/>
<rect x="838.99" y="399.1" width="1.4" height="46.5" fill="#089981" fill-opacity="0.72"/><rect x="837.79" y="434.1" width="3.8" height="2.6" fill="#089981"/>
<rect x="844.55" y="411.1" width="1.4" height="28.7" fill="#089981" fill-opacity="0.72"/><rect x="843.35" y="420.1" width="3.8" height="14.6" fill="#089981"/>
<rect x="850.11" y="411.2" width="1.4" height="17.5" fill="#089981" fill-opacity="0.72"/><rect x="848.91" y="423" width="3.8" height="5.7" fill="#089981"/>
<rect x="855.67" y="417.7" width="1.4" height="9.5" fill="#089981" fill-opacity="0.72"/><rect x="854.47" y="420.7" width="3.8" height="2.5" fill="#089981"/>
<rect x="861.23" y="417.2" width="1.4" height="17.6" fill="#089981" fill-opacity="0.72"/><rect x="860.03" y="418.2" width="3.8" height="2" fill="#089981"/>
<rect x="866.79" y="402.9" width="1.4" height="24.8" fill="#089981" fill-opacity="0.72"/><rect x="865.59" y="410.2" width="3.8" height="8.5" fill="#089981"/>
<rect x="872.36" y="397.6" width="1.4" height="20.6" fill="#089981" fill-opacity="0.72"/><rect x="871.16" y="397.6" width="3.8" height="12.4" fill="#089981"/>
<rect x="877.92" y="397.6" width="1.4" height="4.3" fill="#f23645" fill-opacity="0.72"/><rect x="876.72" y="397.9" width="3.8" height="1.2" fill="#f23645"/>
<rect x="883.48" y="391.6" width="1.4" height="12" fill="#089981" fill-opacity="0.72"/><rect x="882.28" y="392.3" width="3.8" height="11.3" fill="#089981"/>
<rect x="889.04" y="386.5" width="1.4" height="11.6" fill="#f23645" fill-opacity="0.72"/><rect x="887.84" y="392.6" width="3.8" height="3" fill="#f23645"/>
<rect x="894.6" y="394.9" width="1.4" height="2.2" fill="#f23645" fill-opacity="0.72"/><rect x="893.4" y="395.1" width="3.8" height="1" fill="#f23645"/>
</g>
<text x="17.5" y="43.6" font-size="10.8" fill="#434651" textLength="211.6" lengthAdjust="spacingAndGlyphs" stroke="#434651" stroke-width="0.3">U.S. Dollar / Canadian Dollar · 4h · OANDA</text>
<text x="236.9" y="43.6" font-size="10.8" fill="#434651" stroke="#434651" stroke-width="0.3">O</text><text x="244.4" y="43.6" font-size="10.8" fill="#f23645" textLength="38.4" lengthAdjust="spacingAndGlyphs" stroke="#f23645" stroke-width="0.3">1.36408</text>
<text x="290" y="43.6" font-size="10.8" fill="#434651" stroke="#434651" stroke-width="0.3">H</text><text x="297.5" y="43.6" font-size="10.8" fill="#f23645" textLength="38.4" lengthAdjust="spacingAndGlyphs" stroke="#f23645" stroke-width="0.3">1.36412</text>
<text x="343.1" y="43.6" font-size="10.8" fill="#434651" stroke="#434651" stroke-width="0.3">L</text><text x="349.4" y="43.6" font-size="10.8" fill="#f23645" textLength="37.5" lengthAdjust="spacingAndGlyphs" stroke="#f23645" stroke-width="0.3">1.36382</text>
<text x="394.7" y="43.6" font-size="10.8" fill="#434651" stroke="#434651" stroke-width="0.3">C</text><text x="401.6" y="43.6" font-size="10.8" fill="#f23645" textLength="38.4" lengthAdjust="spacingAndGlyphs" stroke="#f23645" stroke-width="0.3">1.36399</text>
<text x="446.9" y="43.6" font-size="10.8" fill="#f23645" textLength="90.6" lengthAdjust="spacingAndGlyphs" stroke="#f23645" stroke-width="0.3">−0.00010 (−0.01%)</text>
<text x="17.5" y="59.3" font-size="10.8" fill="#434651" textLength="49.5" lengthAdjust="spacingAndGlyphs" stroke="#434651" stroke-width="0.3">Vol · Ticks</text>
<text x="74.4" y="59.3" font-size="10.8" fill="#f23645" textLength="29.3" lengthAdjust="spacingAndGlyphs" stroke="#f23645" stroke-width="0.3">2.03 K</text>
<text x="962.5" y="65.4" font-size="10.9" fill="#363a45" textLength="38.5" lengthAdjust="spacingAndGlyphs" stroke="#363a45" stroke-width="0.3">1.39500</text>
<text x="962.5" y="119.3" font-size="10.9" fill="#363a45" textLength="38.5" lengthAdjust="spacingAndGlyphs" stroke="#363a45" stroke-width="0.3">1.39000</text>
<text x="962.5" y="173.2" font-size="10.9" fill="#363a45" textLength="38.5" lengthAdjust="spacingAndGlyphs" stroke="#363a45" stroke-width="0.3">1.38500</text>
<text x="962.5" y="227.1" font-size="10.9" fill="#363a45" textLength="38.5" lengthAdjust="spacingAndGlyphs" stroke="#363a45" stroke-width="0.3">1.38000</text>
<text x="962.5" y="281" font-size="10.9" fill="#363a45" textLength="38.5" lengthAdjust="spacingAndGlyphs" stroke="#363a45" stroke-width="0.3">1.37500</text>
<text x="962.5" y="334.9" font-size="10.9" fill="#363a45" textLength="38.5" lengthAdjust="spacingAndGlyphs" stroke="#363a45" stroke-width="0.3">1.37000</text>
<text x="962.5" y="388.8" font-size="10.9" fill="#363a45" textLength="38.5" lengthAdjust="spacingAndGlyphs" stroke="#363a45" stroke-width="0.3">1.36500</text>
<text x="962.5" y="442.7" font-size="10.9" fill="#363a45" textLength="38.5" lengthAdjust="spacingAndGlyphs" stroke="#363a45" stroke-width="0.3">1.36000</text>
<text x="962.5" y="496.6" font-size="10.9" fill="#363a45" textLength="38.5" lengthAdjust="spacingAndGlyphs" stroke="#363a45" stroke-width="0.3">1.35500</text>
<text x="962.5" y="550.5" font-size="10.9" fill="#363a45" textLength="38.5" lengthAdjust="spacingAndGlyphs" stroke="#363a45" stroke-width="0.3">1.35000</text>
<text x="962.5" y="604.4" font-size="10.9" fill="#363a45" textLength="38.5" lengthAdjust="spacingAndGlyphs" stroke="#363a45" stroke-width="0.3">1.34500</text>
<path d="M954.2 388.2 H1008.4 Q1010.4 388.2 1010.4 390.2 V414.7 Q1010.4 416.7 1008.4 416.7 H954.2 Z" fill="#f23645"/>
<text x="963.5" y="400" font-size="10.9" fill="#ffffff" textLength="38" lengthAdjust="spacingAndGlyphs" stroke="#ffffff" stroke-width="0.3">1.36399</text>
<text x="962.6" y="413" font-size="10.9" fill="#ffffff" textLength="43" lengthAdjust="spacingAndGlyphs" stroke="#ffffff" stroke-width="0.3">03:23:35</text>
<rect x="954.3" y="598.7" width="42.3" height="15.4" fill="#ef5350"/>
<text x="962.5" y="610.3" font-size="10.9" fill="#ffffff" textLength="30.2" lengthAdjust="spacingAndGlyphs" stroke="#ffffff" stroke-width="0.3">2.03 K</text>
<text x="16" y="631.8" font-size="11" fill="#363a45" text-anchor="middle" font-weight="normal" stroke="#363a45" stroke-width="0.3">11</text>
<text x="89" y="631.8" font-size="11" fill="#363a45" text-anchor="middle" font-weight="normal" stroke="#363a45" stroke-width="0.3">14</text>
<text x="155.4" y="631.8" font-size="11" fill="#363a45" text-anchor="middle" font-weight="normal" stroke="#363a45" stroke-width="0.3">16</text>
<text x="222.1" y="631.8" font-size="11" fill="#363a45" text-anchor="middle" font-weight="normal" stroke="#363a45" stroke-width="0.3">20</text>
<text x="288.9" y="631.8" font-size="11" fill="#363a45" text-anchor="middle" font-weight="normal" stroke="#363a45" stroke-width="0.3">22</text>
<text x="350.1" y="631.8" font-size="11" fill="#363a45" text-anchor="middle" font-weight="normal" stroke="#363a45" stroke-width="0.3">25</text>
<text x="422.5" y="631.8" font-size="11" fill="#363a45" text-anchor="middle" font-weight="normal" stroke="#363a45" stroke-width="0.3">28</text>
<text x="516.6" y="631.8" font-size="11" fill="#363a45" text-anchor="middle" font-weight="bold" stroke="#363a45" stroke-width="0.3">Feb</text>
<text x="589" y="631.8" font-size="11" fill="#363a45" text-anchor="middle" font-weight="normal" stroke="#363a45" stroke-width="0.3">4</text>
<text x="656" y="631.8" font-size="11" fill="#363a45" text-anchor="middle" font-weight="normal" stroke="#363a45" stroke-width="0.3">6</text>
<text x="722.9" y="631.8" font-size="11" fill="#363a45" text-anchor="middle" font-weight="normal" stroke="#363a45" stroke-width="0.3">10</text>
<text x="789.5" y="631.8" font-size="11" fill="#363a45" text-anchor="middle" font-weight="normal" stroke="#363a45" stroke-width="0.3">12</text>
<text x="851.1" y="631.8" font-size="11" fill="#363a45" text-anchor="middle" font-weight="normal" stroke="#363a45" stroke-width="0.3">15</text>
<text x="923.4" y="631.8" font-size="11" fill="#363a45" text-anchor="middle" font-weight="normal" stroke="#363a45" stroke-width="0.3">18</text>
<circle cx="895.75" cy="602.1" r="9.3" fill="#ffffff" stroke="#9c27b0" stroke-width="1.4"/>
<g>
<circle cx="900.8" cy="602.1" r="9.3" fill="#ffffff" stroke="#f23645" stroke-width="1.5"/>
<clipPath id="caflag"><circle cx="900.8" cy="602.1" r="7.4"/></clipPath>
<g clip-path="url(#caflag)">
<rect x="892" y="594" width="18" height="17" fill="#f5f7fb"/>
<rect x="892" y="594" width="4.7" height="17" fill="#ee4b4b"/>
<rect x="904.9" y="594" width="5" height="17" fill="#ee4b4b"/>
<path d="M900.7 599.6 L903.2 602.3 L900.7 604.9 L898.2 602.3 Z" fill="#ee4b4b"/>
</g>
</g>
<g>
<circle cx="934" cy="602.1" r="9.3" fill="#ffffff" stroke="#f23645" stroke-width="1.5"/>
<clipPath id="usflag"><circle cx="934" cy="602.1" r="7.4"/></clipPath>
<g clip-path="url(#usflag)">
<rect x="925" y="593" width="18" height="18" fill="#f5f7fb"/>
<rect x="925" y="594.9" width="18" height="1.9" fill="#ee4b4b"/>
<rect x="925" y="600.8" width="18" height="2.8" fill="#ee4b4b"/>
<rect x="925" y="606.4" width="18" height="2.5" fill="#ee4b4b"/>
<rect x="925" y="593" width="10.8" height="10.6" fill="#3d8fe0"/>
<g fill="#ffffff" opacity="0.85"><circle cx="929.2" cy="596.3" r="0.55"/><circle cx="931.6" cy="596.3" r="0.55"/><circle cx="934" cy="596.3" r="0.55"/><circle cx="928" cy="598.8" r="0.55"/><circle cx="930.4" cy="598.8" r="0.55"/><circle cx="932.8" cy="598.8" r="0.55"/><circle cx="929.2" cy="601.3" r="0.55"/><circle cx="931.6" cy="601.3" r="0.55"/><circle cx="934" cy="601.3" r="0.55"/></g>
</g>
</g>
<g fill="#131313">
<path d="M11.6 660.8 H22.3 V674.4 H17.1 V665.6 H11.6 Z"/>
<circle cx="27.3" cy="663.2" r="2.6"/>
<path d="M32.5 660.8 H39.2 L34.6 674.4 H27.9 Z"/>
</g>
<text x="46" y="674.4" font-size="19" font-weight="bold" fill="#131313" textLength="112" lengthAdjust="spacingAndGlyphs">TradingView</text>
</svg>
</body></html>
